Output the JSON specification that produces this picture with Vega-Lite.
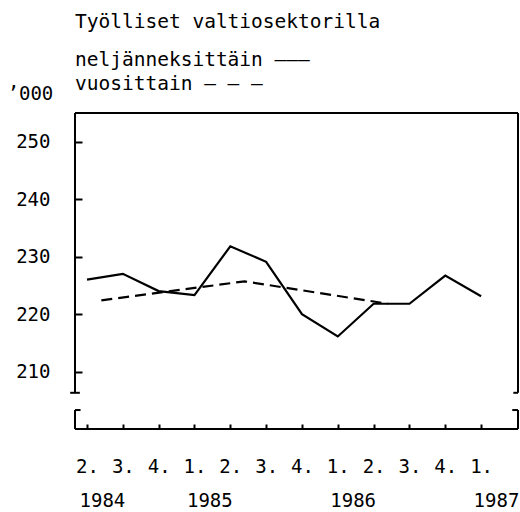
{
  "$schema": "https://vega.github.io/schema/vega-lite/v6.json",
  "width": 443,
  "height": 316,
  "autosize": {"type": "none"},
  "padding": {"left": 75, "top": 113, "right": 2, "bottom": 83},
  "background": "white",
  "config": {"view": {"stroke": null}, "font": "DejaVu Sans Mono"},
  "title": {
    "text": "Työlliset valtiosektorilla",
    "subtitle": ["neljänneksittäin ———", "vuosittain — — —"],
    "anchor": "start",
    "frame": "group",
    "font": "DejaVu Sans Mono",
    "fontSize": 19.5,
    "fontWeight": "normal",
    "color": "black",
    "subtitleFont": "DejaVu Sans Mono",
    "subtitleFontSize": 19.5,
    "subtitleColor": "black",
    "subtitleLineHeight": 24,
    "subtitlePadding": 18,
    "offset": -10
  },
  "datasets": {
    "quarterly": [
      {"q": 0, "value": 226.0},
      {"q": 1, "value": 227.0},
      {"q": 2, "value": 224.0},
      {"q": 3, "value": 223.3},
      {"q": 4, "value": 231.8},
      {"q": 5, "value": 229.1},
      {"q": 6, "value": 220.0},
      {"q": 7, "value": 216.1},
      {"q": 8, "value": 221.8},
      {"q": 9, "value": 221.8},
      {"q": 10, "value": 226.7},
      {"q": 11, "value": 223.1}
    ],
    "annual": [
      {"q": 0.4, "value": 222.4},
      {"q": 4.4, "value": 225.7},
      {"q": 8.4, "value": 221.8}
    ],
    "one": [{}]
  },
  "resolve": {"axis": {"x": "independent", "y": "independent"}},
  "layer": [
    {
      "data": {"name": "quarterly"},
      "mark": {"type": "line", "color": "black", "strokeWidth": 2.2},
      "encoding": {
        "x": {
          "field": "q", "type": "quantitative",
          "scale": {"domain": [-0.335, 12.03], "nice": false, "zero": false},
          "axis": {
            "orient": "bottom", "values": [0,1,2,3,4,5,6,7,8,9,10,11],
            "labelExpr": "((datum.value + 1) % 4 + 1) + '.'",
            "domain": false, "grid": false, "tickSize": -5, "tickWidth": 2, "tickColor": "black",
            "labelFont": "DejaVu Sans Mono", "labelFontSize": 19, "labelColor": "black",
            "labelPadding": 33, "labelFlush": false, "title": null, "zindex": 1
          }
        },
        "y": {
          "field": "value", "type": "quantitative",
          "scale": {"domain": [200, 255], "nice": false, "zero": false},
          "axis": {
            "values": [210, 220, 230, 240, 250],
            "offset": -7,
            "domain": false, "grid": false, "ticks": true, "tickSize": 7, "tickWidth": 2, "tickColor": "black",
            "labelFont": "DejaVu Sans Mono", "labelFontSize": 19, "labelColor": "black",
            "labelPadding": 25, "labelFlush": false, "zindex": 1,
            "title": "’000", "titleAngle": 0, "titleAlign": "left", "titleBaseline": "alphabetic",
            "titleX": -75, "titleY": -14, "titleFont": "DejaVu Sans Mono", "titleFontSize": 19,
            "titleFontWeight": "normal", "titleColor": "black"
          }
        }
      }
    },
    {
      "data": {"name": "annual"},
      "mark": {"type": "line", "color": "black", "strokeWidth": 2.2, "strokeDash": [11, 6]},
      "encoding": {
        "x": {
          "field": "q", "type": "quantitative",
          "axis": {
            "orient": "bottom", "values": [0, 3, 7, 11],
            "labelExpr": "datum.value == 0 ? '1984' : datum.value == 3 ? '1985' : datum.value == 7 ? '1986' : '1987'",
            "domain": false, "grid": false, "ticks": false,
            "labelFont": "DejaVu Sans Mono", "labelFontSize": 19, "labelColor": "black",
            "labelPadding": 62, "labelAlign": "left", "labelOffset": -8, "labelFlush": false, "title": null
          }
        },
        "y": {"field": "value", "type": "quantitative", "axis": null}
      }
    },
    {
      "data": {"name": "one"},
      "mark": {"type": "rule", "color": "black", "strokeWidth": 2},
      "encoding": {
        "x": {"datum": -0.335, "type": "quantitative", "axis": null},
        "x2": {"datum": 12.03},
        "y": {"datum": 255, "type": "quantitative", "axis": null}
      }
    },
    {
      "data": {"name": "one"},
      "mark": {"type": "rule", "color": "black", "strokeWidth": 2},
      "encoding": {
        "x": {"datum": -0.335, "type": "quantitative", "axis": null},
        "x2": {"datum": 12.03},
        "y": {"datum": 200, "type": "quantitative", "axis": null}
      }
    },
    {
      "data": {"name": "one"},
      "mark": {"type": "rule", "color": "black", "strokeWidth": 2},
      "encoding": {
        "x": {"datum": -0.335, "type": "quantitative", "axis": null},
        "y": {"datum": 255, "type": "quantitative", "axis": null},
        "y2": {"datum": 206.3}
      }
    },
    {
      "data": {"name": "one"},
      "mark": {"type": "rule", "color": "black", "strokeWidth": 2},
      "encoding": {
        "x": {"datum": 12.03, "type": "quantitative", "axis": null},
        "y": {"datum": 255, "type": "quantitative", "axis": null},
        "y2": {"datum": 206.3}
      }
    },
    {
      "data": {"name": "one"},
      "mark": {"type": "rule", "color": "black", "strokeWidth": 2},
      "encoding": {
        "x": {"datum": -0.335, "type": "quantitative", "axis": null},
        "y": {"datum": 203.3, "type": "quantitative", "axis": null},
        "y2": {"datum": 200}
      }
    },
    {
      "data": {"name": "one"},
      "mark": {"type": "rule", "color": "black", "strokeWidth": 2},
      "encoding": {
        "x": {"datum": 12.03, "type": "quantitative", "axis": null},
        "y": {"datum": 203.3, "type": "quantitative", "axis": null},
        "y2": {"datum": 200}
      }
    },
    {
      "data": {"name": "one"},
      "mark": {"type": "rule", "color": "black", "strokeWidth": 2},
      "encoding": {
        "x": {"datum": -0.47, "type": "quantitative", "axis": null},
        "x2": {"datum": -0.2},
        "y": {"datum": 206.3, "type": "quantitative", "axis": null}
      }
    },
    {
      "data": {"name": "one"},
      "mark": {"type": "rule", "color": "black", "strokeWidth": 2},
      "encoding": {
        "x": {"datum": 11.9, "type": "quantitative", "axis": null},
        "x2": {"datum": 12.03},
        "y": {"datum": 206.3, "type": "quantitative", "axis": null}
      }
    },
    {
      "data": {"name": "one"},
      "mark": {"type": "rule", "color": "black", "strokeWidth": 2},
      "encoding": {
        "x": {"datum": -0.335, "type": "quantitative", "axis": null},
        "x2": {"datum": -0.18},
        "y": {"datum": 203.3, "type": "quantitative", "axis": null}
      }
    },
    {
      "data": {"name": "one"},
      "mark": {"type": "rule", "color": "black", "strokeWidth": 2},
      "encoding": {
        "x": {"datum": 11.87, "type": "quantitative", "axis": null},
        "x2": {"datum": 12.03},
        "y": {"datum": 203.3, "type": "quantitative", "axis": null}
      }
    }
  ]
}
